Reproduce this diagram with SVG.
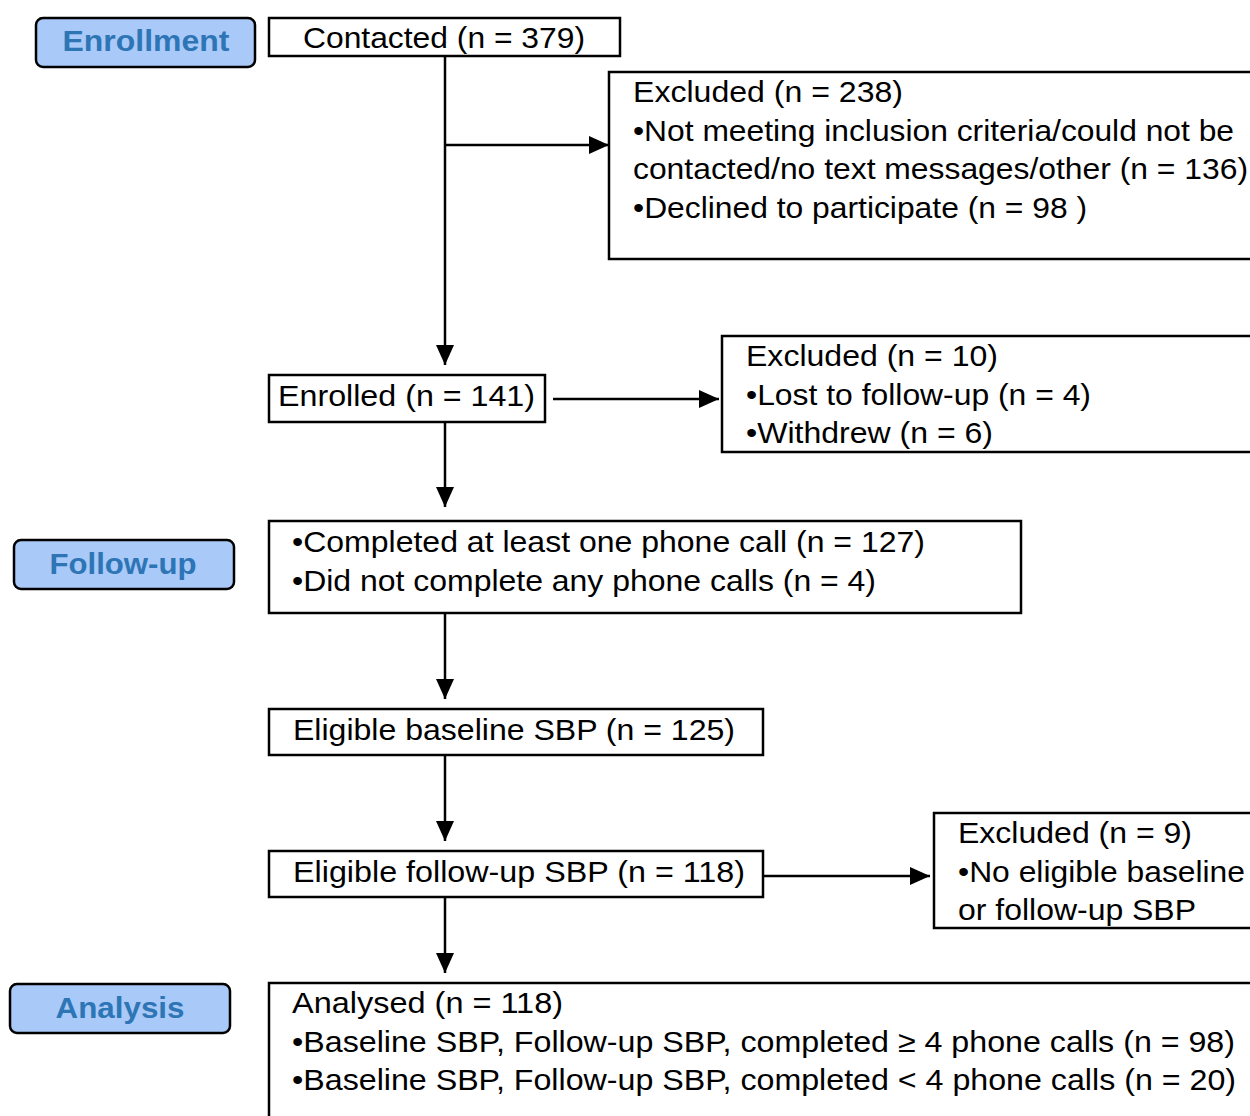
<svg xmlns="http://www.w3.org/2000/svg" width="1250" height="1116" viewBox="0 0 1250 1116">
<style>
.box{fill:#fff;stroke:#000;stroke-width:2.5}
.lbl{fill:#a9c9f8;stroke:#000;stroke-width:2.5}
.t{font-family:"Liberation Sans",Arial,sans-serif;font-size:30px;fill:#000}
.lt{font-family:"Liberation Sans",Arial,sans-serif;font-size:30px;font-weight:bold;fill:#2e75b6;text-anchor:middle}
.c{stroke:#000;stroke-width:2.5;fill:none}
</style>
<defs>
<marker id="ah" markerWidth="8" markerHeight="8" refX="7" refY="4" orient="auto" markerUnits="userSpaceOnUse" viewBox="0 0 8 8">
<path d="M0,0 L8,4 L0,8 z" fill="#000"/>
</marker>
<marker id="a" markerWidth="20" markerHeight="18" refX="20" refY="9" orient="auto" markerUnits="userSpaceOnUse">
<path d="M0,0 L20,9 L0,18 z" fill="#000"/>
</marker>
</defs>
<g id="label-enrollment"><rect class="lbl" x="36" y="18" width="219" height="49" rx="7"/><text class="lt" x="146" y="51" textLength="167" lengthAdjust="spacingAndGlyphs">Enrollment</text></g>
<g id="label-followup"><rect class="lbl" x="14" y="540" width="220" height="49" rx="7"/><text class="lt" x="123" y="574" textLength="147" lengthAdjust="spacingAndGlyphs">Follow-up</text></g>
<g id="label-analysis"><rect class="lbl" x="10" y="984" width="220" height="49" rx="7"/><text class="lt" x="120" y="1018" textLength="129" lengthAdjust="spacingAndGlyphs">Analysis</text></g>

<g id="connectors">
<line class="c" x1="445" y1="56" x2="445" y2="365" marker-end="url(#a)"/>
<line class="c" x1="445" y1="145" x2="609" y2="145" marker-end="url(#a)"/>
<line class="c" x1="553" y1="399" x2="719" y2="399" marker-end="url(#a)"/>
<line class="c" x1="445" y1="422" x2="445" y2="507" marker-end="url(#a)"/>
<line class="c" x1="445" y1="613" x2="445" y2="699" marker-end="url(#a)"/>
<line class="c" x1="445" y1="755" x2="445" y2="841" marker-end="url(#a)"/>
<line class="c" x1="763" y1="876" x2="930" y2="876" marker-end="url(#a)"/>
<line class="c" x1="445" y1="897" x2="445" y2="973" marker-end="url(#a)"/>
</g>

<g id="contacted"><rect class="box" x="269" y="18" width="351" height="38"/><text class="t" x="303" y="48" textLength="282" lengthAdjust="spacingAndGlyphs">Contacted (n = 379)</text></g>
<g id="excluded-238"><rect class="box" x="609" y="72" width="660" height="187"/>
<text class="t" x="633" y="102" textLength="270" lengthAdjust="spacingAndGlyphs">Excluded (n = 238)</text>
<text class="t" x="633" y="141" textLength="601" lengthAdjust="spacingAndGlyphs">•Not meeting inclusion criteria/could not be</text>
<text class="t" x="633" y="179" textLength="615" lengthAdjust="spacingAndGlyphs">contacted/no text messages/other (n = 136)</text>
<text class="t" x="633" y="218" textLength="454" lengthAdjust="spacingAndGlyphs">•Declined to participate (n = 98 )</text></g>
<g id="enrolled"><rect class="box" x="269" y="375" width="276" height="47"/><text class="t" x="278" y="406" textLength="257" lengthAdjust="spacingAndGlyphs">Enrolled (n = 141)</text></g>
<g id="excluded-10"><rect class="box" x="722" y="336" width="560" height="116"/>
<text class="t" x="746" y="366" textLength="252" lengthAdjust="spacingAndGlyphs">Excluded (n = 10)</text>
<text class="t" x="746" y="405" textLength="345" lengthAdjust="spacingAndGlyphs">•Lost to follow-up (n = 4)</text>
<text class="t" x="746" y="443" textLength="247" lengthAdjust="spacingAndGlyphs">•Withdrew (n = 6)</text></g>
<g id="phone-calls"><rect class="box" x="269" y="521" width="752" height="92"/>
<text class="t" x="292" y="552" textLength="633" lengthAdjust="spacingAndGlyphs">•Completed at least one phone call (n = 127)</text>
<text class="t" x="292" y="591" textLength="584" lengthAdjust="spacingAndGlyphs">•Did not complete any phone calls (n = 4)</text></g>
<g id="eligible-baseline"><rect class="box" x="269" y="709" width="494" height="46"/><text class="t" x="293" y="740" textLength="442" lengthAdjust="spacingAndGlyphs">Eligible baseline SBP (n = 125)</text></g>
<g id="eligible-followup"><rect class="box" x="269" y="851" width="494" height="46"/><text class="t" x="293" y="882" textLength="452" lengthAdjust="spacingAndGlyphs">Eligible follow-up SBP (n = 118)</text></g>
<g id="excluded-9"><rect class="box" x="934" y="813" width="340" height="115"/>
<text class="t" x="958" y="843" textLength="234" lengthAdjust="spacingAndGlyphs">Excluded (n = 9)</text>
<text class="t" x="958" y="882" textLength="287" lengthAdjust="spacingAndGlyphs">•No eligible baseline</text>
<text class="t" x="958" y="920" textLength="238" lengthAdjust="spacingAndGlyphs">or follow-up SBP</text></g>
<g id="analysed"><rect class="box" x="269" y="983" width="1000" height="160"/>
<text class="t" x="292" y="1013" textLength="271" lengthAdjust="spacingAndGlyphs">Analysed (n = 118)</text>
<text class="t" x="292" y="1052" textLength="943" lengthAdjust="spacingAndGlyphs">•Baseline SBP, Follow-up SBP, completed ≥ 4 phone calls (n = 98)</text>
<text class="t" x="292" y="1090" textLength="944" lengthAdjust="spacingAndGlyphs">•Baseline SBP, Follow-up SBP, completed &lt; 4 phone calls (n = 20)</text></g>
</svg>
